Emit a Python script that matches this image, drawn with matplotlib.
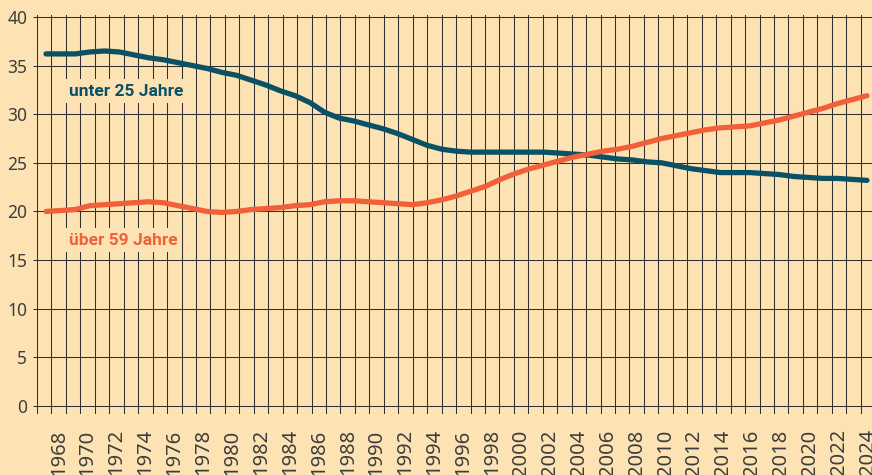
import matplotlib.pyplot as plt
from matplotlib.patches import Circle

# Anteil der Bevölkerung in Prozent, 1968-2024
years = list(range(1968, 2025))
unter_25 = [36.2, 36.2, 36.2, 36.4, 36.5, 36.4, 36.1, 35.8, 35.6, 35.3,
            35.0, 34.7, 34.3, 34.0, 33.5, 33.0, 32.4, 31.9, 31.2, 30.2,
            29.6, 29.3, 28.9, 28.5, 28.0, 27.4, 26.8, 26.4, 26.2, 26.1,
            26.1, 26.1, 26.1, 26.1, 26.1, 26.0, 25.9, 25.8, 25.6, 25.4,
            25.3, 25.1, 25.0, 24.7, 24.4, 24.2, 24.0, 24.0, 24.0, 23.9,
            23.8, 23.6, 23.5, 23.4, 23.4, 23.3, 23.2]
ueber_59 = [20.0, 20.1, 20.2, 20.6, 20.7, 20.8, 20.9, 21.0, 20.9, 20.6,
            20.3, 20.0, 19.9, 20.0, 20.2, 20.3, 20.4, 20.6, 20.7, 21.0,
            21.1, 21.1, 21.0, 20.9, 20.8, 20.7, 20.9, 21.2, 21.6, 22.1,
            22.6, 23.3, 23.9, 24.4, 24.8, 25.2, 25.6, 25.9, 26.2, 26.4,
            26.7, 27.1, 27.5, 27.8, 28.1, 28.4, 28.6, 28.7, 28.8, 29.1,
            29.4, 29.8, 30.2, 30.6, 31.1, 31.5, 31.9]
y_ticks = [0, 5, 10, 15, 20, 25, 30, 35, 40]
x_labels = [str(y) for y in range(1968, 2025, 2)]

BG = '#fde3b3'
GRID = '#303030'
TEAL = '#0b5166'
ORANGE = '#f2603a'

fig = plt.figure(figsize=(8.72, 4.75), dpi=100)
fig.patch.set_facecolor(BG)
rect = [37 / 872, 61 / 475, 835 / 872, 399 / 475]

# Raster-Achse (eine Spalte pro Jahr)
ax = fig.add_axes(rect)
ax.set_facecolor(BG)
ncols = 835 / 14.45
ax.set_xlim(0, ncols)
ax.set_ylim(-0.82, 40.2)
for k in range(58):
    ax.axvline(k, color=GRID, lw=0.75, zorder=1)
for v in y_ticks:
    ax.axhline(v, color=GRID, lw=0.75, zorder=1)
for s in ax.spines.values():
    s.set_visible(False)
ax.set_yticks(y_ticks)
ax.tick_params(axis='y', direction='out', length=3, width=0.75, color=GRID,
               pad=4, labelsize=12.5, labelcolor='#3d3d3d')
ax.set_xticks([i * 2 + 1.5 for i in range(len(x_labels))])
ax.set_xticklabels(x_labels, rotation=90, va='top', ha='center')
ax.tick_params(axis='x', length=0, pad=11, labelsize=14.5, labelcolor='#3d3d3d')
for lab in ax.get_xticklabels() + ax.get_yticklabels():
    lab.set_family('Noto Sans')

# Daten-Achse
ax2 = fig.add_axes(rect)
ax2.set_facecolor('none')
ax2.set_xlim(1968 + (37 - 46) / 14.66, 1968 + (872 - 46) / 14.66)
ax2.set_ylim(-0.82, 40.2)
ax2.axis('off')
ax2.plot(years, unter_25, color=TEAL, lw=3.8, solid_capstyle='round', zorder=3)
ax2.plot(years, ueber_59, color=ORANGE, lw=3.8, solid_capstyle='round', zorder=3)

ax2.text(1969.55, 31.9, 'unter 25 Jahre', color=TEAL, fontsize=12.5,
         fontweight='bold', family='Roboto', ha='left', va='baseline',
         bbox=dict(boxstyle='square,pad=0.25', fc=BG, ec='none'))
ax2.text(1969.55, 16.6, 'über 59 Jahre', color=ORANGE, fontsize=12.5,
         fontweight='bold', family='Roboto', ha='left', va='baseline',
         bbox=dict(boxstyle='square,pad=0.25', fc=BG, ec='none'))

# Ecke oben rechts
fig.patches.append(Circle((900 / 872, 1 + 40 / 475), 55 / 872, transform=fig.transFigure,
                          color='#e3912f', zorder=0))

fig.savefig('out.png', dpi=100, facecolor=BG)
